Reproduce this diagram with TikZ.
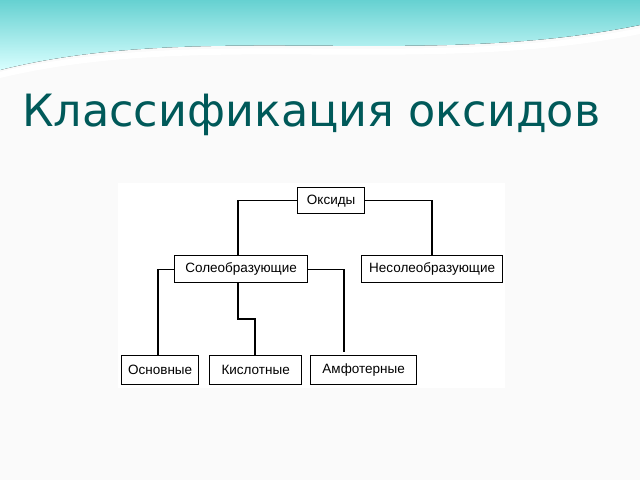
\documentclass[tikz,border=0pt]{standalone}
\usepackage{fontspec}
\setmainfont{Liberation Sans}
\newfontfamily\titlefont{DejaVu Sans}
\begin{document}
\begin{tikzpicture}[x=1pt,y=1pt,
 box/.style={draw,line width=1.3pt,inner sep=0pt,anchor=north west,font=\fontsize{13.5}{15}\selectfont},
 ln/.style={line width=1.3pt}]
\useasboundingbox (0,0) rectangle (640,-480);
\fill[white!96!gray] (0,0) rectangle (640,-480);
\fill[top color=cyan!40!teal!60,bottom color=cyan!15] (0,0) -- (0,-70) .. controls (200,-20) and (420,-70) .. (640,-25) -- (640,0) -- cycle;
\fill[white] (0,-72) .. controls (200,-24) and (420,-72) .. (640,-28) -- (640,-34) .. controls (420,-78) and (200,-30) .. (0,-78) -- cycle;
\node[anchor=base west,inner sep=0pt,text=teal!70!black,font=\titlefont\fontsize{44.5}{48}\selectfont] (title) at (22,-126) {Классификация оксидов};
\fill[white] (118,-183) rectangle (505,-388);
\node[box,minimum width=67,minimum height=26] (ox) at (297,-187) {Оксиды};
\node[box,minimum width=133,minimum height=27] (so) at (174,-255) {Солеобразующие};
\node[box,minimum width=141,minimum height=27] (ne) at (361,-255) {Несолеобразующие};
\node[box,minimum width=77,minimum height=29] (os) at (121,-355) {Основные};
\node[box,minimum width=92,minimum height=29] (ki) at (209,-355) {Кислотные};
\node[box,minimum width=106,minimum height=29] (am) at (310,-355) {Амфотерные};
\coordinate (amend) at (344,-352);
\draw[ln] (ox.west) -| (so.north -| 238,0);
\draw[ln] (ox.east) -| (ne.north -| 432,0);
\draw[ln] (so.west) -| (os.north -| 158,0);
\draw[ln] (so.south -| 238,0) |- (255,-319) -- (ki.north -| 255,0);
\draw[ln] (so.east) -| (amend);
\end{tikzpicture}
\end{document}
